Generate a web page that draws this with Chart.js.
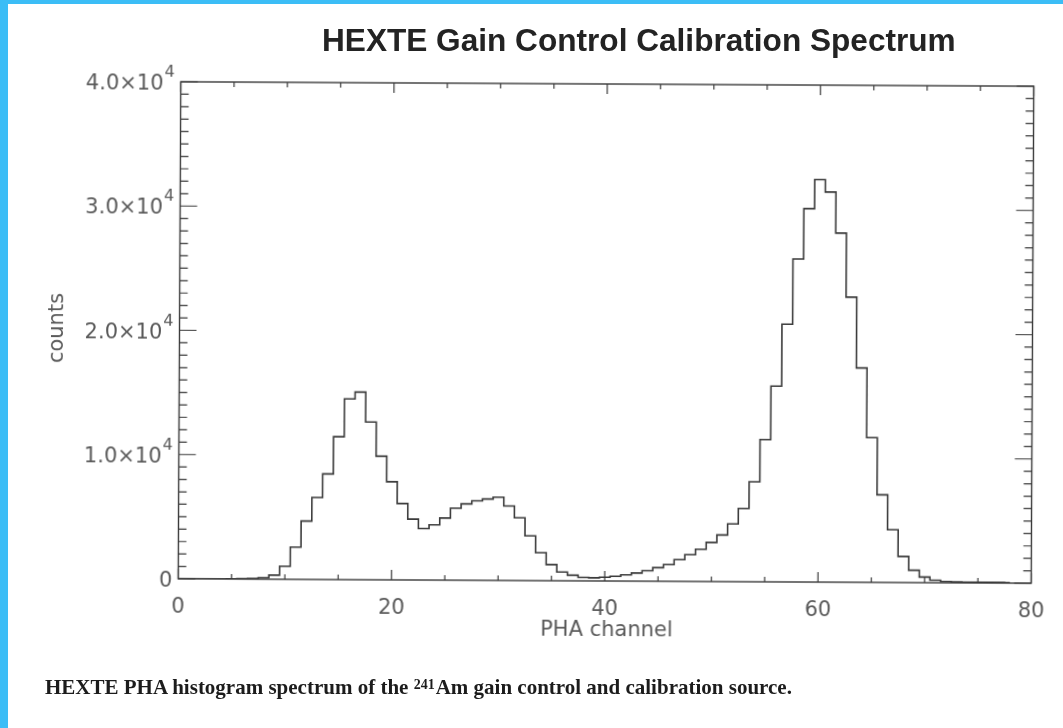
<!DOCTYPE html>
<html>
<head>
<meta charset="utf-8">
<script src="https://cdn.jsdelivr.net/npm/chart.js@4.4.1/dist/chart.umd.min.js"></script>
<style>
  html, body { margin: 0; padding: 0; background: #fff; }
  #wrap { position: relative; width: 1063px; height: 728px; overflow: hidden; background: #fff; }
  #plot { position: absolute; left: 0; top: 0; transform: rotate(0.3deg); transform-origin: 606px 332px; }
  .edge { position: absolute; background: #3bbdf6; }
  #title { position: absolute; left: 322px; top: 25px; font: bold 31.6px 'Liberation Sans', Arial, sans-serif;
           line-height: 31px; color: #232323; white-space: nowrap; }
  #caption { position: absolute; left: 45px; top: 677px; font: bold 21px 'Liberation Serif', 'Times New Roman', serif;
             line-height: 21px; color: #1c1c1c; white-space: nowrap; }
  #caption sup { font-size: 14px; position: relative; top: -3px; vertical-align: top; margin-right: 1px; }
</style>
</head>
<body>
<div id="wrap">
  <canvas id="plot" width="1063" height="728"></canvas>
  <div class="edge" style="left:0;top:0;width:8px;height:728px"></div>
  <div class="edge" style="left:0;top:0;width:1063px;height:4px"></div>
  <div id="title">HEXTE Gain Control Calibration Spectrum</div>
  <div id="caption">HEXTE PHA histogram spectrum of the <sup>241</sup>Am gain control and calibration source.</div>
</div>
<script>
'use strict';

// ─── Data ────────────────────────────────────────────────────────────────────
const CHANNELS = Array.from({ length: 79 }, (_, i) => i);   // PHA channels 0..78

const COUNTS = [
  0, 0, 0, 0, 0, 20, 40, 60, 120, 330,                        // 0-9
  1050, 2600, 4700, 6600, 8500, 11500, 14550, 15100, 12700, 9950, // 10-19
  7900, 6150, 4900, 4150, 4450, 5000, 5800, 6150, 6400, 6550,  // 20-29
  6700, 6000, 5050, 3600, 2250, 1300, 700, 450, 280, 250,      // 30-39
  300, 380, 500, 650, 850, 1100, 1350, 1750, 2150, 2600,       // 40-49
  3150, 3750, 4650, 5900, 8050, 11450, 15750, 20750, 26000, 30050, // 50-59
  32400, 31400, 28100, 22950, 17250, 11650, 7050, 4250, 2100, 1000, // 60-69
  450, 200, 100, 70, 60, 50, 50, 50, 40,                       // 70-78
];

const X_TICKS  = [0, 20, 40, 60, 80];
const Y_TICKS  = [0, 10000, 20000, 30000, 40000];
const Y_MANT   = ['0', '1.0×10', '2.0×10', '3.0×10', '4.0×10'];
const Y_EXP    = ['', '4', '4', '4', '4'];

// ─── Styles ──────────────────────────────────────────────────────────────────
const INK       = '#3a3a3a';
const TEXT_INK  = '#5a5a5a';
const AXIS_FONT = "21px 'DejaVu Sans', Verdana, sans-serif";
const EXP_FONT  = "16px 'DejaVu Sans', Verdana, sans-serif";

// ─── Frame, inward ticks and axis text (IDL-style box) ───────────────────────
const idlAxes = {
  id: 'idlAxes',
  afterDraw(chart) {
    const { ctx, chartArea: a, scales: { x, y } } = chart;
    ctx.save();
    ctx.strokeStyle = INK;
    ctx.lineWidth = 1.4;
    ctx.strokeRect(a.left, a.top, a.right - a.left, a.bottom - a.top);

    ctx.lineWidth = 1.2;
    ctx.beginPath();
    for (let v = 0; v <= 80; v += 5) {
      const px = x.getPixelForValue(v);
      const len = v % 20 === 0 ? 10 : 5;
      ctx.moveTo(px, a.bottom); ctx.lineTo(px, a.bottom - len);
      ctx.moveTo(px, a.top);    ctx.lineTo(px, a.top + len);
    }
    for (let v = 0; v <= 40000; v += 1000) {
      const py = y.getPixelForValue(v);
      const len = v % 10000 === 0 ? 17 : 8;
      ctx.moveTo(a.left, py);  ctx.lineTo(a.left + len, py);
      ctx.moveTo(a.right, py); ctx.lineTo(a.right - len, py);
    }
    ctx.stroke();

    ctx.fillStyle = TEXT_INK;
    ctx.font = AXIS_FONT;
    ctx.textBaseline = 'alphabetic';
    ctx.textAlign = 'center';
    X_TICKS.forEach(v => ctx.fillText(String(v), x.getPixelForValue(v), a.bottom + 34));
    ctx.fillText('PHA channel', (a.left + a.right) / 2 + 2, a.bottom + 55);

    ctx.textAlign = 'left';
    Y_TICKS.forEach((v, i) => {
      const py = y.getPixelForValue(v) + 8;
      ctx.font = AXIS_FONT;
      const wm = ctx.measureText(Y_MANT[i]).width;
      ctx.font = EXP_FONT;
      const we = Y_EXP[i] ? ctx.measureText(Y_EXP[i]).width + 1 : 0;
      const x0 = a.left - 6 - wm - we;
      ctx.font = AXIS_FONT;
      ctx.fillText(Y_MANT[i], x0, py);
      if (Y_EXP[i]) {
        ctx.font = EXP_FONT;
        ctx.fillText(Y_EXP[i], x0 + wm + 1, py - 13);
      }
    });

    ctx.font = AXIS_FONT;
    ctx.save();
    ctx.translate(63, 331);
    ctx.rotate(-Math.PI / 2);
    ctx.textAlign = 'center';
    ctx.fillText('counts', 0, 0);
    ctx.restore();
    ctx.restore();
  },
};

// ─── Chart ───────────────────────────────────────────────────────────────────
new Chart(document.getElementById('plot').getContext('2d'), {
  type: 'line',
  data: {
    datasets: [{
      data: CHANNELS.map((c, i) => ({ x: c, y: COUNTS[i] })),
      stepped: 'middle',
      borderColor: INK,
      borderWidth: 1.6,
      pointRadius: 0,
      fill: false,
    }],
  },
  options: {
    responsive: false,
    animation: false,
    devicePixelRatio: 1,
    layout: { padding: { left: 179.5, top: 84, right: 30.5, bottom: 147 } },
    plugins: { legend: { display: false }, tooltip: { enabled: false }, title: { display: false } },
    scales: {
      x: { type: 'linear', min: 0, max: 80, display: false },
      y: { type: 'linear', min: 0, max: 40000, display: false },
    },
  },
  plugins: [idlAxes],
});
</script>
</body>
</html>
